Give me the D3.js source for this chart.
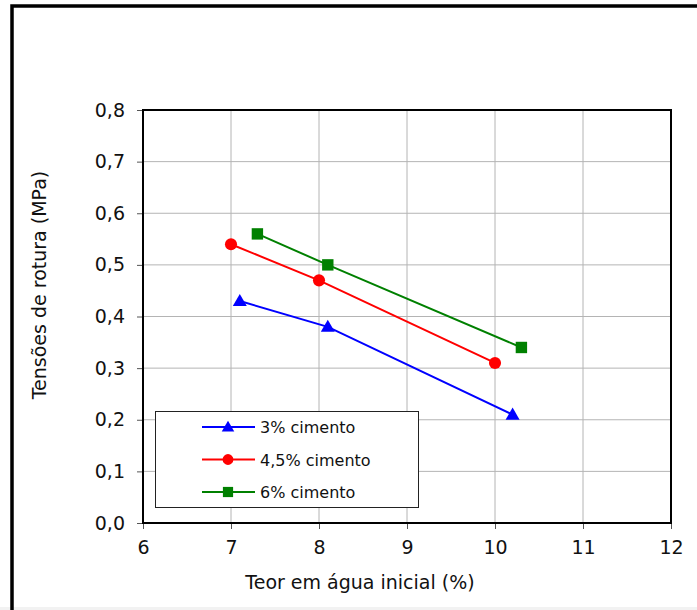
<!DOCTYPE html>
<html>
<head>
<meta charset="utf-8">
<script src="https://cdn.jsdelivr.net/npm/d3@7"></script>
<style>
  body { margin: 0; background: #fff; }
  svg { display: block; font-family: "DejaVu Sans", Verdana, sans-serif; }
</style>
</head>
<body>
<svg id="chart" width="697" height="610"></svg>
<script>
// data
const xTicks = [6, 7, 8, 9, 10, 11, 12];
const yTicks = [0, 0.1, 0.2, 0.3, 0.4, 0.5, 0.6, 0.7, 0.8];
const seriesNames = ["3% cimento", "4,5% cimento", "6% cimento"];
const teor3 = [7.1, 8.1, 10.2];
const tensao3 = [0.43, 0.38, 0.21];
const teor45 = [7.0, 8.0, 10.0];
const tensao45 = [0.54, 0.47, 0.31];
const teor6 = [7.3, 8.1, 10.3];
const tensao6 = [0.56, 0.50, 0.34];

const colors = ["#0000ff", "#ff0000", "#008000"];
const symbols = [d3.symbolTriangle, d3.symbolCircle, d3.symbolSquare];
const symSizes = [85, 115, 130];

const series = [
  { name: seriesNames[0], pts: teor3.map((x, i) => [x, tensao3[i]]) },
  { name: seriesNames[1], pts: teor45.map((x, i) => [x, tensao45[i]]) },
  { name: seriesNames[2], pts: teor6.map((x, i) => [x, tensao6[i]]) }
];

const svg = d3.select("#chart");
const fmt = d => d.toFixed(1).replace(".", ",");

// outer frame
svg.append("rect").attr("x", 0).attr("y", 607).attr("width", 697).attr("height", 3).attr("fill", "#f2f2f2");
svg.append("rect").attr("x", 12).attr("y", 6).attr("width", 700).attr("height", 610)
  .attr("fill", "none").attr("stroke", "#000").attr("stroke-width", 3.5);

const plot = { left: 143, right: 671, top: 110, bottom: 523 };
const x = d3.scaleLinear().domain([6, 12]).range([plot.left, plot.right]);
const y = d3.scaleLinear().domain([0, 0.8]).range([plot.bottom, plot.top]);

// gridlines
svg.append("g").selectAll("line").data(xTicks.slice(1, -1)).enter().append("line")
  .attr("x1", d => x(d)).attr("x2", d => x(d)).attr("y1", plot.top).attr("y2", plot.bottom)
  .attr("stroke", "#b4b4b4").attr("stroke-width", 1);
svg.append("g").selectAll("line").data(yTicks.slice(1, -1)).enter().append("line")
  .attr("x1", plot.left).attr("x2", plot.right).attr("y1", d => y(d)).attr("y2", d => y(d))
  .attr("stroke", "#b4b4b4").attr("stroke-width", 1);

// axes
const xAxis = d3.axisBottom(x).tickValues(xTicks).tickSize(6).tickPadding(12).tickFormat(d3.format("d"));
const yAxis = d3.axisLeft(y).tickValues(yTicks).tickSize(6).tickPadding(12).tickFormat(fmt);
const gx = svg.append("g").attr("transform", `translate(0,${plot.bottom})`).call(xAxis);
const gy = svg.append("g").attr("transform", `translate(${plot.left},0)`).call(yAxis);
[gx, gy].forEach(g => {
  g.select(".domain").remove();
  g.selectAll("text").attr("font-size", 19).attr("fill", "#111").attr("font-family", "DejaVu Sans, Verdana, sans-serif");
  g.selectAll(".tick line").attr("stroke", "#555");
});

// plot border
svg.append("rect").attr("x", plot.left).attr("y", plot.top)
  .attr("width", plot.right - plot.left).attr("height", plot.bottom - plot.top)
  .attr("fill", "none").attr("stroke", "#000").attr("stroke-width", 2);

// axis titles
svg.append("text").attr("x", 360).attr("y", 589).attr("text-anchor", "middle")
  .attr("font-size", 19).attr("fill", "#111").text("Teor em água inicial (%)");
svg.append("text").attr("transform", "translate(46,285) rotate(-90)").attr("text-anchor", "middle")
  .attr("font-size", 19).attr("fill", "#111").text("Tensões de rotura (MPa)");

// series
const line = d3.line().x(d => x(d[0])).y(d => y(d[1]));
series.forEach((s, i) => {
  svg.append("path").attr("d", line(s.pts)).attr("fill", "none")
    .attr("stroke", colors[i]).attr("stroke-width", 2);
  svg.append("g").selectAll("path").data(s.pts).enter().append("path")
    .attr("d", d3.symbol().type(symbols[i]).size(symSizes[i]))
    .attr("transform", d => `translate(${x(d[0])},${y(d[1]) + (i === 0 ? 1 : 0)})`)
    .attr("fill", colors[i]);
});

// legend
const leg = svg.append("g");
leg.append("rect").attr("x", 155.5).attr("y", 411.5).attr("width", 263).attr("height", 96)
  .attr("fill", "#fff").attr("stroke", "#222").attr("stroke-width", 1);
series.forEach((s, i) => {
  const ly = 427 + i * 32.5;
  leg.append("line").attr("x1", 202).attr("x2", 255).attr("y1", ly).attr("y2", ly)
    .attr("stroke", colors[i]).attr("stroke-width", 2);
  leg.append("path").attr("d", d3.symbol().type(symbols[i]).size(symSizes[i] * 0.8)())
    .attr("transform", `translate(228,${ly + (i === 0 ? 1 : 0)})`).attr("fill", colors[i]);
  leg.append("text").attr("x", 260).attr("y", ly + 6).attr("font-size", 16).attr("fill", "#111").text(s.name);
});
</script>
</body>
</html>
